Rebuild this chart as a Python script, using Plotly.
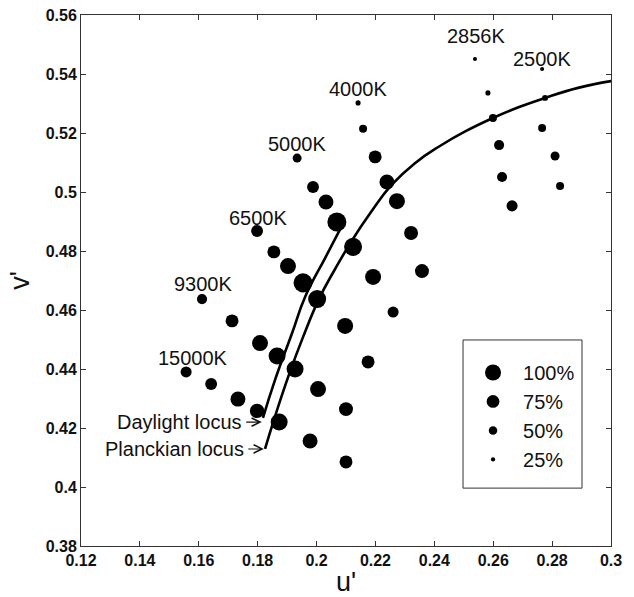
import plotly.graph_objects as go

# ---------------- data ----------------
cct_labels = ["15000K", "9300K", "6500K", "5000K", "4000K", "2856K", "2500K"]

u_15000 = [0.1557, 0.1642, 0.1733, 0.1798, 0.1873, 0.1978, 0.2100]
v_15000 = [0.4390, 0.4349, 0.4298, 0.4258, 0.4220, 0.4156, 0.4085]
s_15000 = [65, 70, 88, 85, 100, 88, 76]

u_9300 = [0.1611, 0.1713, 0.1808, 0.1866, 0.1927, 0.2005, 0.2100]
v_9300 = [0.4637, 0.4563, 0.4488, 0.4444, 0.4400, 0.4332, 0.4264]
s_9300 = [60, 76, 94, 100, 100, 94, 82]

u_6500 = [0.1798, 0.1855, 0.1903, 0.1954, 0.2002, 0.2097, 0.2175]
v_6500 = [0.4868, 0.4797, 0.4749, 0.4692, 0.4637, 0.4546, 0.4424]
s_6500 = [70, 76, 94, 112, 106, 94, 76]

u_5000 = [0.1934, 0.1988, 0.2032, 0.2069, 0.2124, 0.2192, 0.2260]
v_5000 = [0.5115, 0.5017, 0.4966, 0.4898, 0.4814, 0.4712, 0.4593]
s_5000 = [53, 70, 88, 112, 106, 94, 65]

u_4000 = [0.2141, 0.2158, 0.2199, 0.2239, 0.2273, 0.2321, 0.2358]
v_4000 = [0.5302, 0.5214, 0.5119, 0.5034, 0.4969, 0.4861, 0.4732]
s_4000 = [30, 47, 76, 88, 94, 82, 82]

u_2856 = [0.2538, 0.2582, 0.2599, 0.2620, 0.2630, 0.2664]
v_2856 = [0.5451, 0.5336, 0.5251, 0.5159, 0.5051, 0.4953]
s_2856 = [24, 30, 47, 59, 59, 65]

u_2500 = [0.2766, 0.2776, 0.2766, 0.2810, 0.2827]
v_2500 = [0.5417, 0.5319, 0.5217, 0.5122, 0.5020]
s_2500 = [24, 35, 47, 53, 47]

planck_u = [0.1825, 0.1855, 0.1906, 0.1954, 0.2008, 0.2063, 0.2121, 0.2185, 0.2254,
            0.2333, 0.2419, 0.2508, 0.2599, 0.2688, 0.2776, 0.2888, 0.3000]
planck_v = [0.4129, 0.4227, 0.4380, 0.4508, 0.4637, 0.4739, 0.4837, 0.4932, 0.5023,
            0.5097, 0.5156, 0.5207, 0.5251, 0.5288, 0.5319, 0.5353, 0.5376]

daylight_u = [0.1818, 0.1859, 0.1917, 0.1961, 0.2029, 0.2086]
daylight_v = [0.4234, 0.4363, 0.4522, 0.4644, 0.4776, 0.4885]

legend_pct = [100, 75, 50, 25]
legend_labels = ["100%", "75%", "50%", "25%"]

x_tickvals = [0.12, 0.14, 0.16, 0.18, 0.20, 0.22, 0.24, 0.26, 0.28, 0.30]
x_ticktext = ["0.12", "0.14", "0.16", "0.18", "0.2", "0.22", "0.24", "0.26", "0.28", "0.3"]
y_tickvals = [0.38, 0.40, 0.42, 0.44, 0.46, 0.48, 0.50, 0.52, 0.54, 0.56]
y_ticktext = ["0.38", "0.4", "0.42", "0.44", "0.46", "0.48", "0.5", "0.52", "0.54", "0.56"]

# ---------------- figure ----------------
PX_PER_PCT = 0.17
FONT = "Liberation Sans, Arial, sans-serif"
INK = "#111111"

groups = [
    (u_15000, v_15000, s_15000),
    (u_9300, v_9300, s_9300),
    (u_6500, v_6500, s_6500),
    (u_5000, v_5000, s_5000),
    (u_4000, v_4000, s_4000),
    (u_2856, v_2856, s_2856),
    (u_2500, v_2500, s_2500),
]
label_shift = [(7, 14), (1, 15), (1, 13), (0, 14), (0, 14), (1, 23), (0, 10)]

fig = go.Figure()

for lu, lv in ((planck_u, planck_v), (daylight_u, daylight_v)):
    fig.add_trace(go.Scatter(x=lu, y=lv, mode="lines",
                             line=dict(color="black", width=2.6, shape="spline", smoothing=1.3),
                             showlegend=False, hoverinfo="skip"))

for (u, v, s), lab in zip(groups, cct_labels):
    fig.add_trace(go.Scatter(x=u, y=v, mode="markers", name=lab, showlegend=False,
                             marker=dict(color="black", opacity=1,
                                         size=[p * PX_PER_PCT for p in s], line=dict(width=0))))

for p, lab in zip(legend_pct, legend_labels):
    fig.add_trace(go.Scatter(x=[None], y=[None], mode="markers", name=lab, legendgroup=lab,
                             marker=dict(color="black", opacity=1, size=p * PX_PER_PCT, line=dict(width=0))))

annotations = []
for (u, v, s), lab, (dx, dy) in zip(groups, cct_labels, label_shift):
    annotations.append(dict(x=u[0], y=v[0], text=lab, showarrow=False, xshift=dx, yshift=dy,
                            font=dict(family=FONT, size=20, color=INK)))

# locus labels with arrows pointing at the start of each locus
ARROW_LEN = 0.0058
for lab, lu, lv, dy in (("Daylight locus", daylight_u, daylight_v, -0.0014),
                        ("Planckian locus", planck_u, planck_v, 0.0)):
    tip = lu[0] - 0.0004
    tail = tip - ARROW_LEN
    yv = lv[0] + dy
    annotations.append(dict(x=tip, y=yv, ax=tail, ay=yv, xref="x", yref="y", axref="x", ayref="y",
                            text="", showarrow=True, arrowhead=5, arrowsize=1.5, arrowwidth=1.1,
                            arrowcolor=INK))
    annotations.append(dict(x=tail - 0.0004, y=yv, text=lab, showarrow=False, xanchor="right",
                            yanchor="middle", font=dict(family=FONT, size=20, color=INK)))

axis_common = dict(showgrid=False, zeroline=False, showline=True, linecolor="#333", linewidth=1,
                   mirror="ticks", ticks="inside", ticklen=5, tickcolor="#333", automargin=False,
                   tickfont=dict(family=FONT, size=16, color=INK, weight="bold"))

fig.update_layout(
    width=634, height=597,
    margin=dict(l=81, r=23, t=15, b=51),
    paper_bgcolor="white", plot_bgcolor="white",
    xaxis=dict(range=[0.12, 0.3], tickvals=x_tickvals, ticktext=x_ticktext,
               title=dict(text="u'", font=dict(family=FONT, size=27, color=INK), standoff=9), **axis_common),
    yaxis=dict(range=[0.38, 0.56], tickvals=y_tickvals, ticktext=y_ticktext,
               title=dict(text="v'", font=dict(family=FONT, size=27, color=INK), standoff=8), **axis_common),
    annotations=annotations,
    shapes=[dict(type="rect", xref="paper", yref="paper", x0=0.7208, x1=0.9453, y0=0.109, y1=0.388,
                 line=dict(color="#333", width=1), fillcolor="rgba(0,0,0,0)")],
    legend=dict(x=0.7208, y=0.3635, xanchor="left", yanchor="top", bgcolor="rgba(0,0,0,0)",
                borderwidth=0, font=dict(family=FONT, size=20, color=INK),
                traceorder="grouped", tracegroupgap=0, itemsizing="trace", itemwidth=50),
)

fig.write_html("out.html")
